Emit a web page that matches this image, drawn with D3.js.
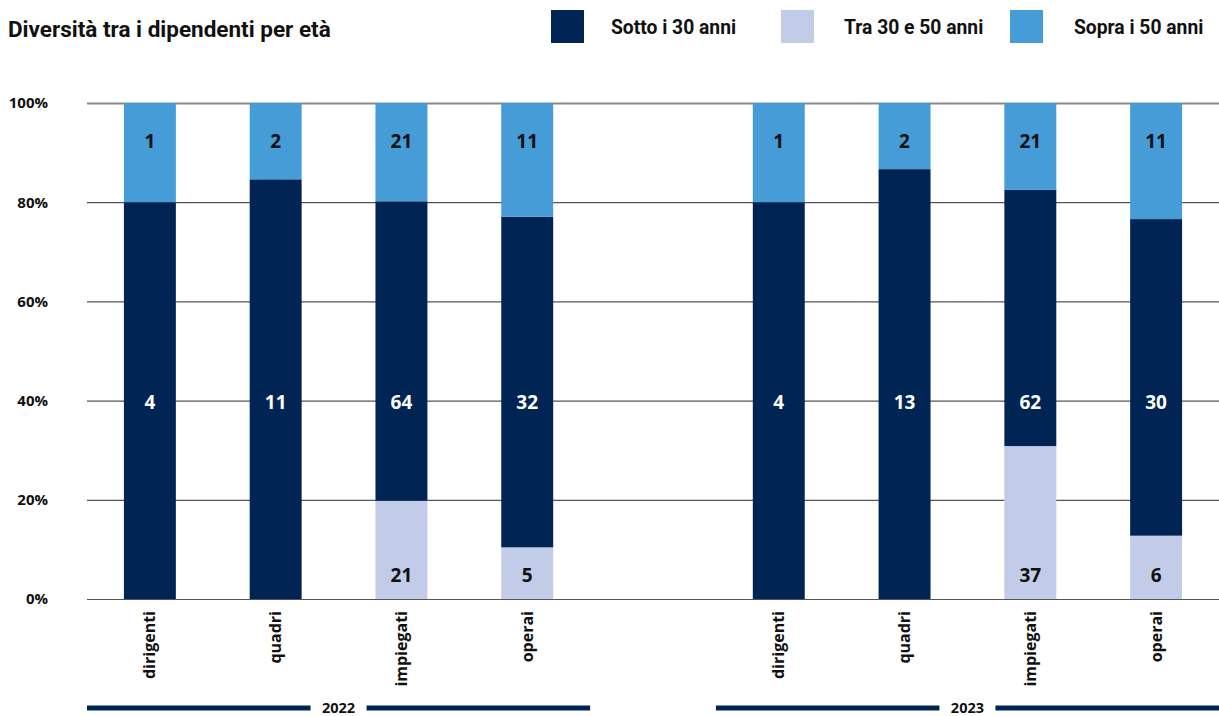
<!DOCTYPE html>
<html>
<head>
<meta charset="utf-8">
<script src="https://cdn.jsdelivr.net/npm/d3@7"></script>
<style>
  body { margin: 0; background: #fff; }
  svg { display: block; }
  text { font-family: "Open Sans", sans-serif; font-weight: 700; }
</style>
</head>
<body>
<div id="chart"></div>
<script>
// data
const years = ["2022", "2023"];
const categories = ["dirigenti", "quadri", "impiegati", "operai"];
const legendNames = ["Sotto i 30 anni", "Tra 30 e 50 anni", "Sopra i 50 anni"];
// one value per category, 2022 first then 2023
const tra30e50 = [0, 0, 21, 5, 0, 0, 37, 6];
const sotto30 = [4, 11, 64, 32, 4, 13, 62, 30];
const sopra50 = [1, 2, 21, 11, 1, 2, 21, 11];
const yTicks = [0, 0.2, 0.4, 0.6, 0.8, 1];

const width = 1219, height = 716;
const colors = { sotto: "#002554", tra: "#c2cbe8", sopra: "#459cd6" };
const ink = "#111";

const rows = [];
years.forEach((yr, i) => {
  categories.forEach((c, j) => {
    const k = i * categories.length + j;
    rows.push({ key: yr + "|" + c, year: yr, cat: c, tra: tra30e50[k], sotto: sotto30[k], sopra: sopra50[k] });
  });
});

const slots = rows.filter(d => d.year === years[0]).map(d => d.key)
  .concat(["gap"])
  .concat(rows.filter(d => d.year === years[1]).map(d => d.key));

const x = d3.scaleBand().domain(slots).range([87, 1219]).paddingInner(0.587).paddingOuter(0.2935);
const y = d3.scaleLinear().domain([0, 1]).range([599, 103]);

const svg = d3.select("#chart").append("svg")
  .attr("width", width).attr("height", height);

// title
svg.append("text")
  .attr("x", 8).attr("y", 37)
  .style("font-family", "Roboto, sans-serif")
  .style("font-size", "22.5px")
  .style("fill", ink)
  .text("Diversità tra i dipendenti per età");

// legend
const legendX = [551, 781, 1010];
const legendTextX = [611, 844, 1074];
const legendKeys = ["sotto", "tra", "sopra"];
const lg = svg.append("g").selectAll("g")
  .data(legendNames)
  .enter().append("g");
lg.append("rect")
  .attr("x", (d, i) => legendX[i]).attr("y", 10)
  .attr("width", 33).attr("height", 33)
  .attr("fill", (d, i) => colors[legendKeys[i]]);
lg.append("text")
  .attr("x", (d, i) => legendTextX[i]).attr("y", 27).attr("dy", "0.35em")
  .style("font-family", "Roboto, sans-serif")
  .style("font-size", "19.3px")
  .style("fill", ink)
  .text(d => d);

// grid + y axis
const yAxis = svg.append("g")
  .attr("transform", "translate(87,0)")
  .call(d3.axisLeft(y).tickValues(yTicks).tickFormat(d3.format(".0%"))
    .tickSize(-(1219 - 87)).tickPadding(39));
yAxis.select(".domain").remove();
yAxis.selectAll(".tick line")
  .attr("stroke", d => d === 1 ? "#8a8a8a" : "#555")
  .attr("stroke-width", d => d === 1 ? 2 : 1.2);
yAxis.selectAll(".tick text")
  .style("font-size", "15px")
  .style("fill", ink);

// stacked bars
const stack = d3.stack().keys(["tra", "sotto", "sopra"]).offset(d3.stackOffsetExpand);
const series = stack(rows);

const layers = svg.append("g").selectAll("g")
  .data(series)
  .enter().append("g")
  .attr("fill", d => colors[d.key]);

layers.selectAll("rect")
  .data(d => d)
  .enter().append("rect")
  .attr("x", d => x(d.data.key))
  .attr("width", x.bandwidth())
  .attr("y", d => y(d[1]))
  .attr("height", d => y(d[0]) - y(d[1]));

// value labels: fixed rows like the original
const labelY = { tra: y(0) - 24, sotto: y(0.4) + 2, sopra: y(1) + 38 };
series.forEach(s => {
  svg.append("g").selectAll("text")
    .data(s.filter(d => d.data[s.key] > 0))
    .enter().append("text")
    .attr("x", d => x(d.data.key) + x.bandwidth() / 2)
    .attr("y", labelY[s.key])
    .attr("dy", "0.35em")
    .attr("text-anchor", "middle")
    .style("font-size", "19px")
    .style("fill", s.key === "sotto" ? "#fff" : ink)
    .text(d => d.data[s.key]);
});

// category labels
svg.append("g").selectAll("text")
  .data(rows)
  .enter().append("text")
  .attr("transform", d => "translate(" + (x(d.key) + x.bandwidth() / 2) + ",611) rotate(-90)")
  .attr("dy", "0.35em")
  .attr("text-anchor", "end")
  .style("font-size", "16px")
  .style("fill", ink)
  .text(d => d.cat);

// year brackets
const half = x.step() * x.paddingInner() / 2;
years.forEach(yr => {
  const keys = rows.filter(d => d.year === yr).map(d => d.key);
  const x0 = x(keys[0]) - half;
  const x1 = x(keys[keys.length - 1]) + x.bandwidth() + half;
  const cx = (x0 + x1) / 2;
  const g = svg.append("g");
  g.append("line").attr("x1", x0).attr("x2", cx - 28).attr("y1", 708).attr("y2", 708)
    .attr("stroke", colors.sotto).attr("stroke-width", 5);
  g.append("line").attr("x1", cx + 28).attr("x2", x1).attr("y1", 708).attr("y2", 708)
    .attr("stroke", colors.sotto).attr("stroke-width", 5);
  g.append("text").attr("x", cx).attr("y", 708).attr("dy", "0.35em")
    .attr("text-anchor", "middle")
    .style("font-size", "14.5px").style("fill", ink).text(yr);
});
</script>
</body>
</html>
